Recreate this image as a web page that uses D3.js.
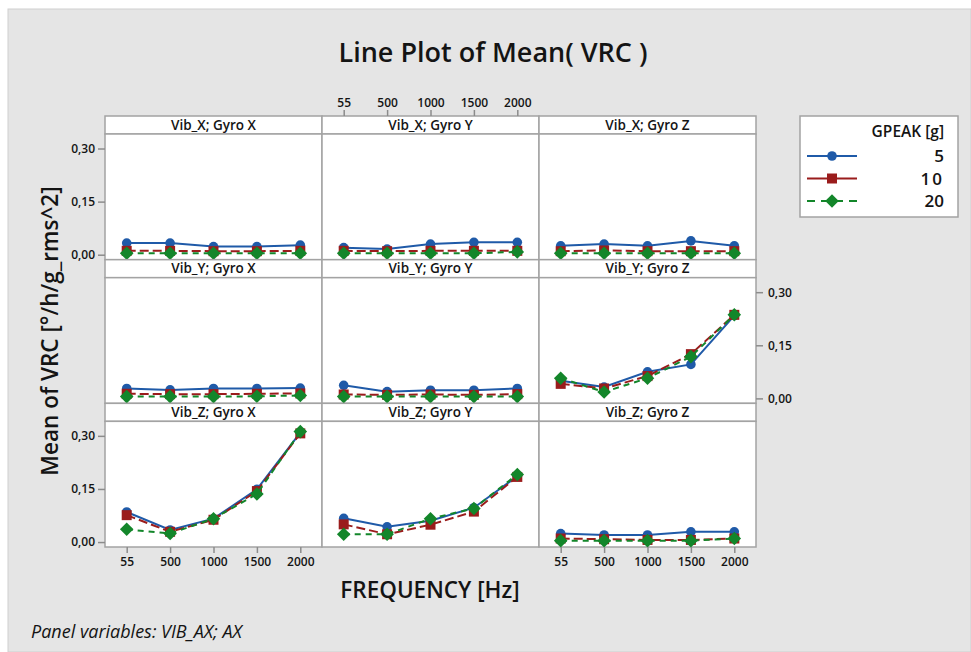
<!DOCTYPE html>
<html lang="en">
<head>
  <meta charset="UTF-8">
  <title>Line Plot of Mean( VRC )</title>
  <script src="https://d3js.org/d3.v7.min.js"></script>
  <style>
    body { margin: 0; background: #fff; }
    svg text { font-family: "Open Sans", "Noto Sans", sans-serif; fill: #141414; font-weight: 600; }
  </style>
</head>
<body>
  <div id="chart"></div>

  <script>
    // categories
    const freqs = ["55", "500", "1000", "1500", "2000"];
    const vibs = ["Vib_X", "Vib_Y", "Vib_Z"];
    const gyros = ["Gyro X", "Gyro Y", "Gyro Z"];
    const gpeaks = ["5", "10", "20"];
    const yTicks = [0, 0.15, 0.30];

    // mean VRC per panel, one row per GPEAK (5, 10, 20), one value per frequency
    const vibX_gyroX = [[0.033, 0.033, 0.023, 0.023, 0.027], [0.011, 0.011, 0.010, 0.010, 0.011], [0.004, 0.004, 0.004, 0.004, 0.004]];
    const vibX_gyroY = [[0.020, 0.016, 0.030, 0.035, 0.035], [0.011, 0.010, 0.011, 0.011, 0.011], [0.004, 0.004, 0.004, 0.004, 0.008]];
    const vibX_gyroZ = [[0.025, 0.030, 0.025, 0.039, 0.025], [0.010, 0.012, 0.010, 0.010, 0.010], [0.004, 0.004, 0.004, 0.004, 0.004]];
    const vibY_gyroX = [[0.028, 0.024, 0.028, 0.028, 0.029], [0.013, 0.012, 0.012, 0.013, 0.014], [0.005, 0.005, 0.005, 0.006, 0.008]];
    const vibY_gyroY = [[0.037, 0.019, 0.023, 0.023, 0.028], [0.011, 0.010, 0.011, 0.010, 0.012], [0.005, 0.005, 0.005, 0.005, 0.005]];
    const vibY_gyroZ = [[0.050, 0.032, 0.075, 0.096, 0.234], [0.041, 0.028, 0.063, 0.125, 0.236], [0.057, 0.018, 0.057, 0.118, 0.236]];
    const vibZ_gyroX = [[0.085, 0.034, 0.066, 0.149, 0.309], [0.076, 0.029, 0.063, 0.144, 0.307], [0.036, 0.024, 0.066, 0.136, 0.312]];
    const vibZ_gyroY = [[0.067, 0.043, 0.060, 0.097, 0.186], [0.050, 0.022, 0.049, 0.086, 0.184], [0.022, 0.022, 0.066, 0.095, 0.191]];
    const vibZ_gyroZ = [[0.024, 0.020, 0.020, 0.029, 0.029], [0.010, 0.008, 0.006, 0.006, 0.010], [0.004, 0.004, 0.004, 0.004, 0.010]];

    const panels = [
      [vibX_gyroX, vibX_gyroY, vibX_gyroZ],
      [vibY_gyroX, vibY_gyroY, vibY_gyroZ],
      [vibZ_gyroX, vibZ_gyroY, vibZ_gyroZ]
    ];

    const colors = ["#1f5aa8", "#9a1c1c", "#13862a"];
    const dashes = [null, "9,4", "6,5"];
    const shapes = ["circle", "square", "diamond"];

    const W = 971, H = 652;
    const gridLeft = 105, gridTop = 116, colW = 217, rowH = 143.67, stripH = 18;
    const plotH = rowH - stripH;

    const svg = d3.select("#chart").append("svg")
      .attr("width", W).attr("height", H);

    svg.append("rect")
      .attr("x", 8).attr("y", 9).attr("width", W - 8).attr("height", H - 9)
      .attr("fill", "#e5e5e5").attr("stroke", "#cfcfcf");

    svg.append("text")
      .attr("x", 493).attr("y", 62)
      .attr("text-anchor", "middle")
      .style("font-size", "27px")
      .text("Line Plot of Mean( VRC )");

    const commaFmt = (d) => d3.format(".2f")(d).replace(".", ",");

    function marker(sel, shape, color) {
      if (shape === "circle") {
        sel.append("circle").attr("r", 4.8).attr("fill", color);
      } else if (shape === "square") {
        sel.append("path").attr("d", d3.symbol(d3.symbolSquare, 100)()).attr("fill", color);
      } else {
        sel.append("path").attr("d", d3.symbol(d3.symbolSquare, 92)())
          .attr("transform", "rotate(45)").attr("fill", color);
      }
    }

    vibs.forEach((vib, r) => {
      const rowTop = gridTop + r * rowH;
      const y = d3.scaleLinear()
        .domain([-0.014, 0.341])
        .range([rowTop + stripH + plotH, rowTop + stripH]);

      gyros.forEach((gyro, c) => {
        const x0 = gridLeft + c * colW;
        const x = d3.scalePoint().domain(freqs).range([x0, x0 + colW]).padding(0.5);
        const g = svg.append("g");

        // strip
        g.append("rect")
          .attr("x", x0).attr("y", rowTop).attr("width", colW).attr("height", stripH)
          .attr("fill", "#fff").attr("stroke", "#a3a3a3").attr("stroke-width", 1.5);
        g.append("text")
          .attr("x", x0 + colW / 2).attr("y", rowTop + 13.5)
          .attr("text-anchor", "middle")
          .style("font-size", "13.5px")
          .text(vib + "; " + gyro);

        // plot area
        g.append("rect")
          .attr("x", x0).attr("y", rowTop + stripH).attr("width", colW).attr("height", plotH)
          .attr("fill", "#fff").attr("stroke", "#a3a3a3").attr("stroke-width", 1.5);

        const series = panels[r][c];
        series.forEach((vals, s) => {
          const pts = freqs.map((f, i) => [x(f), y(vals[i])]);
          g.append("path")
            .attr("d", d3.line()(pts))
            .attr("fill", "none")
            .attr("stroke", colors[s])
            .attr("stroke-width", 2)
            .attr("stroke-dasharray", dashes[s]);
          pts.forEach((p) => {
            const m = g.append("g").attr("transform", `translate(${p[0]},${p[1]})`);
            marker(m, shapes[s], colors[s]);
          });
        });

        // bottom axes on columns 1 and 3, top axis on column 2
        if (r === 2 && c !== 1) {
          g.append("g").attr("class", "axis")
            .attr("transform", `translate(0,${rowTop + stripH + plotH})`)
            .call(d3.axisBottom(x).tickSize(6).tickPadding(4));
        }
        if (r === 0 && c === 1) {
          g.append("g").attr("class", "axis")
            .attr("transform", `translate(0,${rowTop})`)
            .call(d3.axisTop(x).tickSize(6).tickPadding(3));
        }
      });

      // y axes: left for rows 1 and 3, right for row 2
      if (r === 1) {
        svg.append("g").attr("class", "axis")
          .attr("transform", `translate(${gridLeft + 3 * colW},0)`)
          .call(d3.axisRight(y).tickValues(yTicks).tickFormat(commaFmt).tickSize(7).tickPadding(5));
      } else {
        svg.append("g").attr("class", "axis")
          .attr("transform", `translate(${gridLeft},0)`)
          .call(d3.axisLeft(y).tickValues(yTicks).tickFormat(commaFmt).tickSize(7).tickPadding(3));
      }
    });

    svg.selectAll(".axis .domain").remove();
    svg.selectAll(".axis line").attr("stroke", "#8c8c8c").attr("stroke-width", 1.5);
    svg.selectAll(".axis text").style("font-size", "12px").attr("fill", "#141414")
      .style("font-weight", 600)
      .style("font-family", "'Open Sans', 'Noto Sans', sans-serif");

    // axis titles
    svg.append("text")
      .attr("transform", "translate(58,331) rotate(-90)")
      .attr("text-anchor", "middle")
      .style("font-size", "22.5px")
      .text("Mean of VRC [°/h/g_rms^2]");

    svg.append("text")
      .attr("x", 430).attr("y", 598)
      .attr("text-anchor", "middle")
      .style("font-size", "22.5px")
      .text("FREQUENCY [Hz]");

    // legend
    const lg = svg.append("g");
    lg.append("rect")
      .attr("x", 800).attr("y", 116).attr("width", 158).attr("height", 101)
      .attr("fill", "#fff").attr("stroke", "#a3a3a3").attr("stroke-width", 1.5);
    lg.append("text")
      .attr("x", 944).attr("y", 137)
      .attr("text-anchor", "end")
      .style("font-size", "15.5px")
      .text("GPEAK [g]");
    gpeaks.forEach((gp, s) => {
      const ly = 156 + s * 22.5;
      lg.append("line")
        .attr("x1", 807).attr("x2", 857).attr("y1", ly).attr("y2", ly)
        .attr("stroke", colors[s]).attr("stroke-width", 2)
        .attr("stroke-dasharray", s === 2 ? "8,6" : null);
      const m = lg.append("g").attr("transform", `translate(832,${ly})`);
      marker(m, shapes[s], colors[s]);
      lg.append("text")
        .attr("x", 944).attr("y", ly + 6)
        .attr("text-anchor", "end")
        .style("font-size", "17px")
        .style("letter-spacing", gp === "10" ? "2px" : null)
        .text(gp);
    });

    svg.append("text")
      .attr("x", 31).attr("y", 638)
      .style("font-size", "18px")
      .style("font-style", "italic")
      .style("font-weight", 400)
      .attr("fill", "#2a2a2a")
      .text("Panel variables: VIB_AX; AX");
  </script>
</body>
</html>
